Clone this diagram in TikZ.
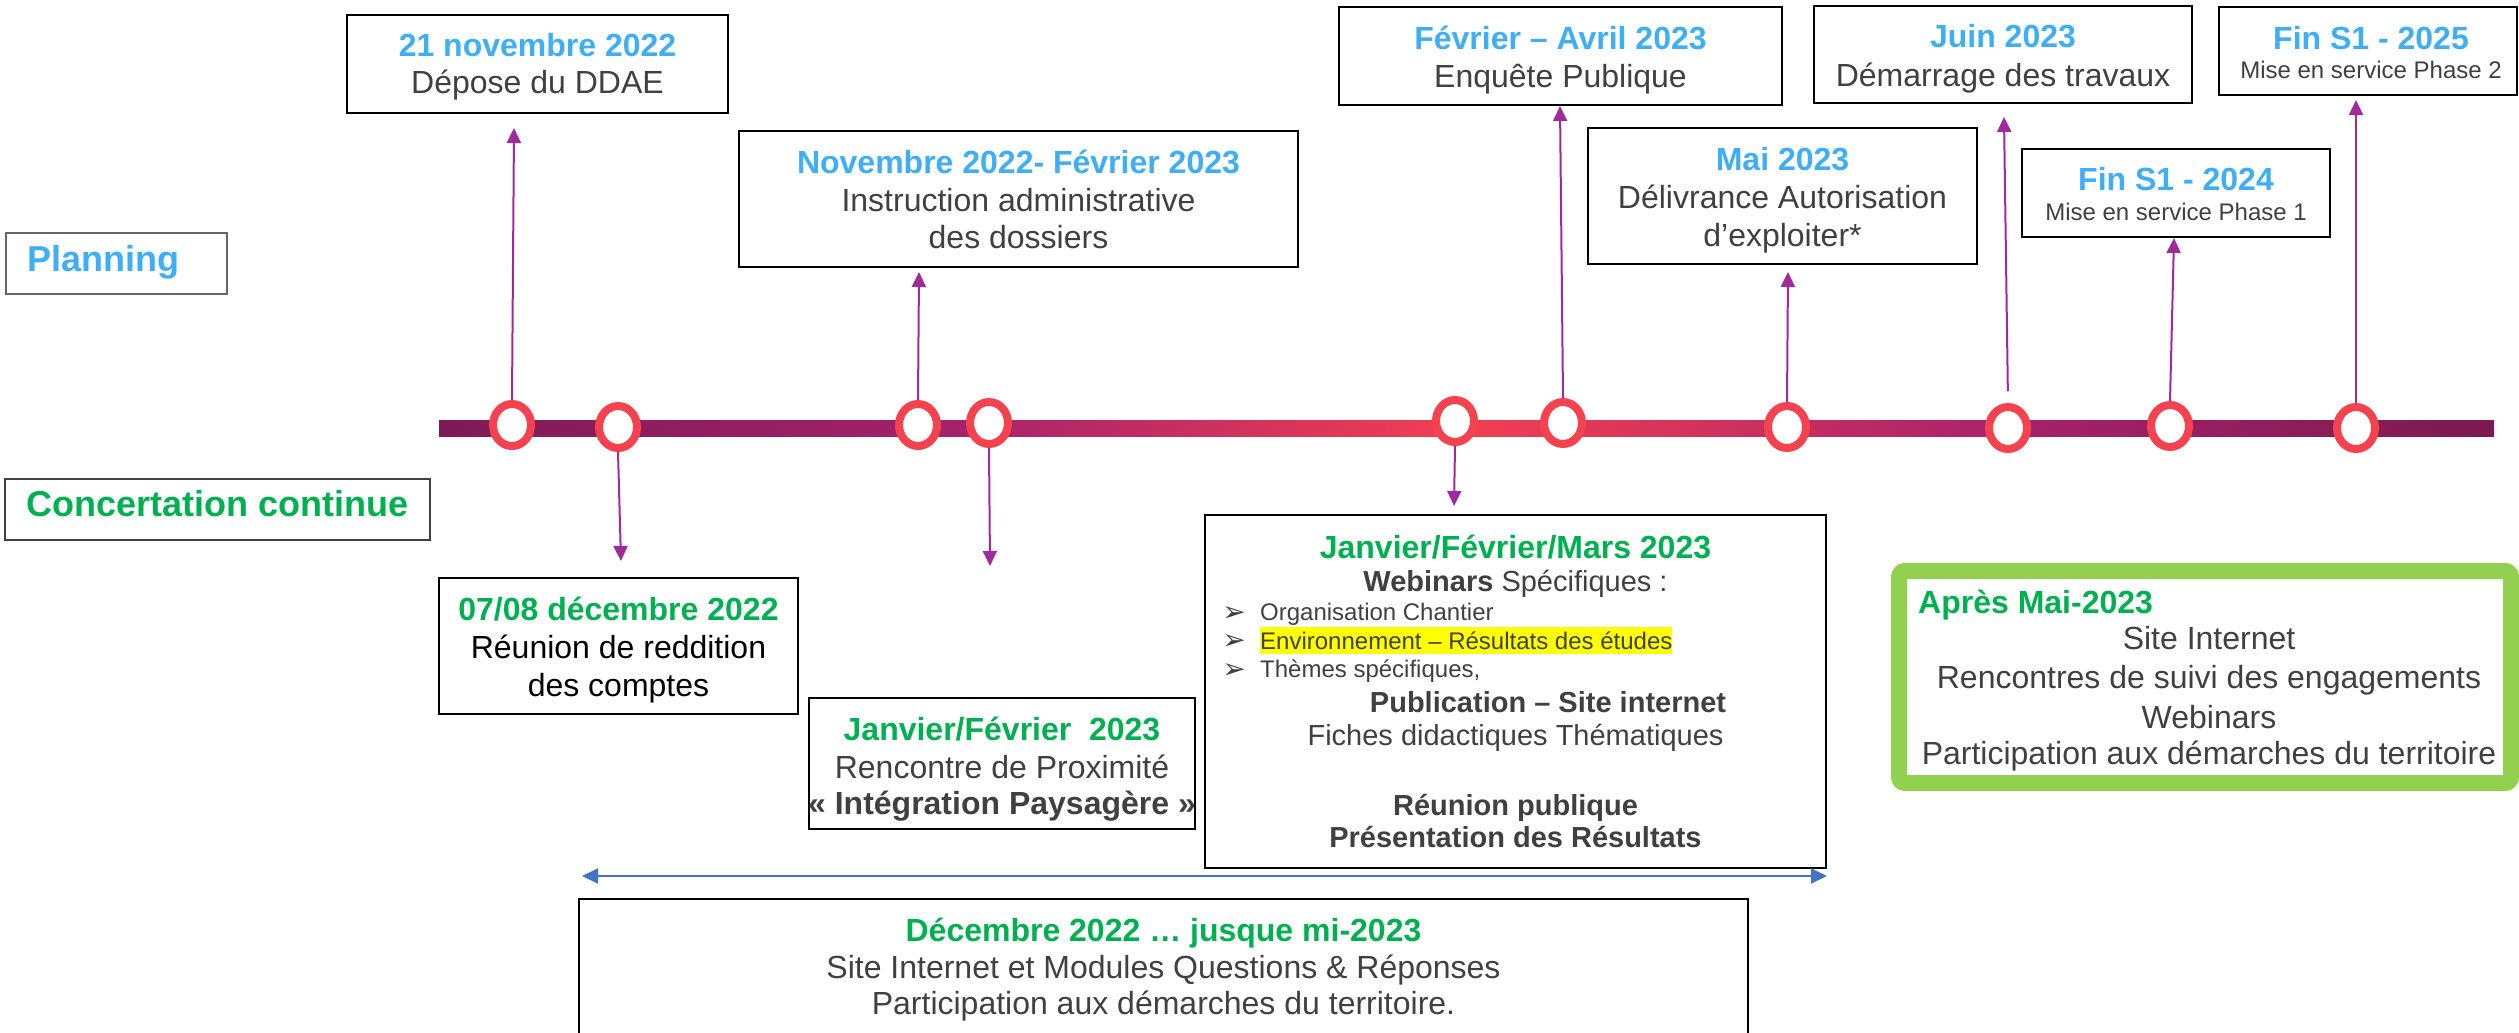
\documentclass[tikz,border=0pt]{standalone}
\usepackage{fontspec}
\setmainfont{Liberation Sans}
\newfontfamily\dingfont{DejaVu Sans}
\usetikzlibrary{arrows.meta,shapes.geometric}

\definecolor{planblue}{HTML}{3FAEF5}
\definecolor{concgreen}{HTML}{00B050}
\definecolor{txtgray}{HTML}{404040}
\definecolor{sidegray}{HTML}{666666}
\definecolor{ringred}{HTML}{F4424F}
\definecolor{stemviolet}{HTML}{9E2A9B}
\definecolor{spanblue}{HTML}{4472C4}
\definecolor{framegreen}{HTML}{92D050}
\definecolor{hlyellow}{HTML}{FFFF00}
\definecolor{barA}{HTML}{7F1A55}
\definecolor{barB}{HTML}{A3226B}
\definecolor{barC}{HTML}{F23F52}
\definecolor{barD}{HTML}{A8236A}
\definecolor{barE}{HTML}{7B1A4F}

\tikzset{
  evbox/.style={draw=black, line width=2.5pt, fill=white, inner sep=0pt},
  sidebox/.style={draw=sidegray, line width=2pt, fill=white, inner sep=0pt},
  ttl/.style={anchor=base, inner sep=0pt, text=planblue, font=\bfseries\fontsize{32pt}{38pt}\selectfont},
  ttlg/.style={ttl, text=concgreen},
  body/.style={anchor=base, inner sep=0pt, text=txtgray, font=\fontsize{32pt}{38pt}\selectfont},
  bodys/.style={body, font=\fontsize{24pt}{29pt}\selectfont},
  bodym/.style={body, font=\fontsize{29pt}{35pt}\selectfont},
  bodymb/.style={body, font=\bfseries\fontsize{29pt}{35pt}\selectfont},
  bul/.style={anchor=base, inner sep=0pt, text=txtgray, font=\dingfont\fontsize{28pt}{32pt}\selectfont},
  ring/.style={ellipse, draw=ringred, line width=8pt, fill=white, minimum width=38pt, minimum height=42pt, inner sep=0pt},
  stem/.style={draw=stemviolet, line width=2pt, -{Triangle[width=14pt,length=15pt]}},
  span/.style={draw=spanblue, line width=2pt, {Triangle[width=15pt,length=16pt]}-{Triangle[width=15pt,length=16pt]}}
}

\begin{document}
\begin{tikzpicture}[x=1pt, y=-1pt]
\useasboundingbox (0,0) rectangle (2519,1033);
\fill[white] (0,0) rectangle (2519,1033);

% ---- timeline bar ----
\shade[left color=barA, right color=barB] (439,420) rectangle (951,436);
\shade[left color=barB, right color=barC] (950,420) rectangle (1461,436);
\shade[left color=barC, right color=barD] (1460,420) rectangle (2001,436);
\shade[left color=barD, right color=barE] (2000,420) rectangle (2494,436);

% ---- milestones on the bar ----
\node[ring] (c1) at (512,425) {};
\node[ring] (c2) at (618,427) {};
\node[ring] (c3) at (918,425) {};
\node[ring] (c4) at (989,423) {};
\node[ring] (c5) at (1455,421) {};
\node[ring] (c6) at (1563,423) {};
\node[ring] (c7) at (1787,427) {};
\node[ring] (c8) at (2008,428) {};
\node[ring] (c9) at (2170,426) {};
\node[ring] (c10) at (2356,428) {};

% ---- row labels ----
\node[sidebox, minimum width=221pt, minimum height=61pt] (planbox) at (116.5,263.5) {};
\node[anchor=base west, inner sep=0pt, text=planblue, font=\bfseries\fontsize{36pt}{43pt}\selectfont] (plantxt) at (27,271) {Planning};
\node[sidebox, draw=txtgray, minimum width=425pt, minimum height=61pt] (concbox) at (217.5,509.5) {};
\node[anchor=base west, inner sep=0pt, text=concgreen, font=\bfseries\fontsize{36pt}{43pt}\selectfont] (conctxt) at (26,516) {Concertation continue};

% ---- planning boxes ----
\node[evbox, minimum width=381pt, minimum height=98pt] (bA) at (537.5,64) {};
\node[ttl] (bA1) at (537.5,57) {21 novembre 2022};
\node[body] (bA2) at (537.5,93) {Dépose du DDAE};

\node[evbox, minimum width=559pt, minimum height=136pt] (bB) at (1018.5,199) {};
\node[ttl] (bB1) at (1018.5,173) {Novembre 2022- Février 2023};
\node[body] (bB2) at (1018.5,211) {Instruction administrative};
\node[body] (bB3) at (1018.5,248) {des dossiers};

\node[evbox, minimum width=443pt, minimum height=98pt] (bC) at (1560.5,56) {};
\node[ttl] (bC1) at (1560.5,50) {Février – Avril 2023};
\node[body] (bC2) at (1560.5,88) {Enquête Publique};

\node[evbox, minimum width=389pt, minimum height=136pt] (bD) at (1782.5,196) {};
\node[ttl] (bD1) at (1782.5,170) {Mai 2023};
\node[body] (bD2) at (1782.5,208) {Délivrance Autorisation};
\node[body] (bD3) at (1782.5,246) {d’exploiter*};

\node[evbox, minimum width=378pt, minimum height=97pt] (bE) at (2003,54.5) {};
\node[ttl] (bE1) at (2003,48) {Juin 2023};
\node[body] (bE2) at (2003,86) {Démarrage des travaux};

\node[evbox, minimum width=308pt, minimum height=88pt] (bF) at (2176,193) {};
\node[ttl] (bF1) at (2176,190) {Fin S1 - 2024};
\node[bodys] (bF2) at (2176,220.5) {Mise en service Phase 1};

\node[evbox, minimum width=298pt, minimum height=88pt] (bG) at (2368,51) {};
\node[ttl] (bG1) at (2371,50) {Fin S1 - 2025};
\node[bodys] (bG2) at (2371,78.5) {Mise en service Phase 2};

% ---- concertation boxes ----
\node[evbox, minimum width=359pt, minimum height=136pt] (bH) at (618.5,646) {};
\node[ttlg] (bH1) at (618.5,620) {07/08 décembre 2022};
\node[body, text=black] (bH2) at (618.5,658) {Réunion de reddition};
\node[body, text=black] (bH3) at (618.5,696) {des comptes};

\node[evbox, minimum width=386pt, minimum height=131pt] (bI) at (1002,763.5) {};
\node[ttlg] (bI1) at (1002,740) {Janvier/Février\ \ 2023};
\node[body] (bI2) at (1002,778) {Rencontre de Proximité};
\node[body, font=\bfseries\fontsize{32pt}{38pt}\selectfont] (bI3) at (1002,814) {« Intégration Paysagère »};

\node[evbox, minimum width=621pt, minimum height=353pt] (bJ) at (1515.5,691.5) {};
\node[ttlg] (bJ1) at (1515.5,558) {Janvier/Février/Mars 2023};
\node[bodym] (bJ2) at (1515.5,591) {\textbf{Webinars} Spécifiques :};
\node[bul] (bJb1) at (1234,621) {➢};
\node[bul] (bJb2) at (1234,649.5) {➢};
\node[bul] (bJb3) at (1234,678) {➢};
\node[bodys, anchor=base west] (bJ3) at (1260,620.5) {Organisation Chantier};
\node[bodys, anchor=base west, fill=hlyellow, text=txtgray, text height=21.7pt, text depth=5.1pt] (bJ4) at (1260,649) {Environnement – Résultats des études};
\node[bodys, anchor=base west] (bJ5) at (1260,677.5) {Thèmes spécifiques,};
\node[bodymb] (bJ6) at (1548,712) {Publication – Site internet};
\node[bodym] (bJ7) at (1515.5,745) {Fiches didactiques Thématiques};
\node[bodymb] (bJ8) at (1515.5,815) {Réunion publique};
\node[bodymb] (bJ9) at (1515.5,847) {Présentation des Résultats};

% ---- ongoing actions ----
\draw[black, line width=2.5pt, fill=white] (579,899) rectangle (1748,1045);
\node[ttlg] (bK1) at (1163.5,941) {Décembre 2022 … jusque mi-2023};
\node[body] (bK2) at (1163.5,978) {Site Internet et Modules Questions \& Réponses};
\node[body] (bK3) at (1163.5,1014) {Participation aux démarches du territoire.};

\node[draw=framegreen, line width=16pt, rounded corners=6pt, fill=white, minimum width=612pt, minimum height=212pt, inner sep=0pt] (bL) at (2205,677) {};
\node[ttlg, anchor=base west] (bL1) at (1918,613) {Après Mai-2023};
\node[body] (bL2) at (2209,649) {Site Internet};
\node[body] (bL3) at (2209,688) {Rencontres de suivi des engagements};
\node[body] (bL4) at (2209,728) {Webinars};
\node[body] (bL5) at (2209,764) {Participation aux démarches du territoire};

% ---- stems from the milestones ----
\coordinate (t1) at (514,128);
\coordinate (t2) at (621,561);
\coordinate (t3) at (919,272);
\coordinate (t4) at (990,566);
\coordinate (t5) at (1454,506);
\coordinate (t6) at (1560,106);
\coordinate (t7) at (1788,272);
\coordinate (t8) at (2004,117);
\coordinate (t9) at (2174,238);
\coordinate (t10) at (2356,100);

\draw[stem] (c1.north) -- (t1);
\draw[stem] (c2.south) -- (t2);
\draw[stem] (c3.north) -- (t3);
\draw[stem] (c4.south) -- (t4);
\draw[stem] (c5.south) -- (t5);
\draw[stem] (c6.north) -- (t6);
\draw[stem] (c7.north) -- (t7);
\draw[stem, shorten <=12pt] (c8.north) -- (t8);
\draw[stem] (c9.north) -- (t9);
\draw[stem] (c10.north) -- (t10);

% ---- span of the ongoing actions ----
\coordinate (sL) at (582,876);
\coordinate (sR) at (1827,876);
\draw[span] (sL) -- (sR);
\end{tikzpicture}
\end{document}
